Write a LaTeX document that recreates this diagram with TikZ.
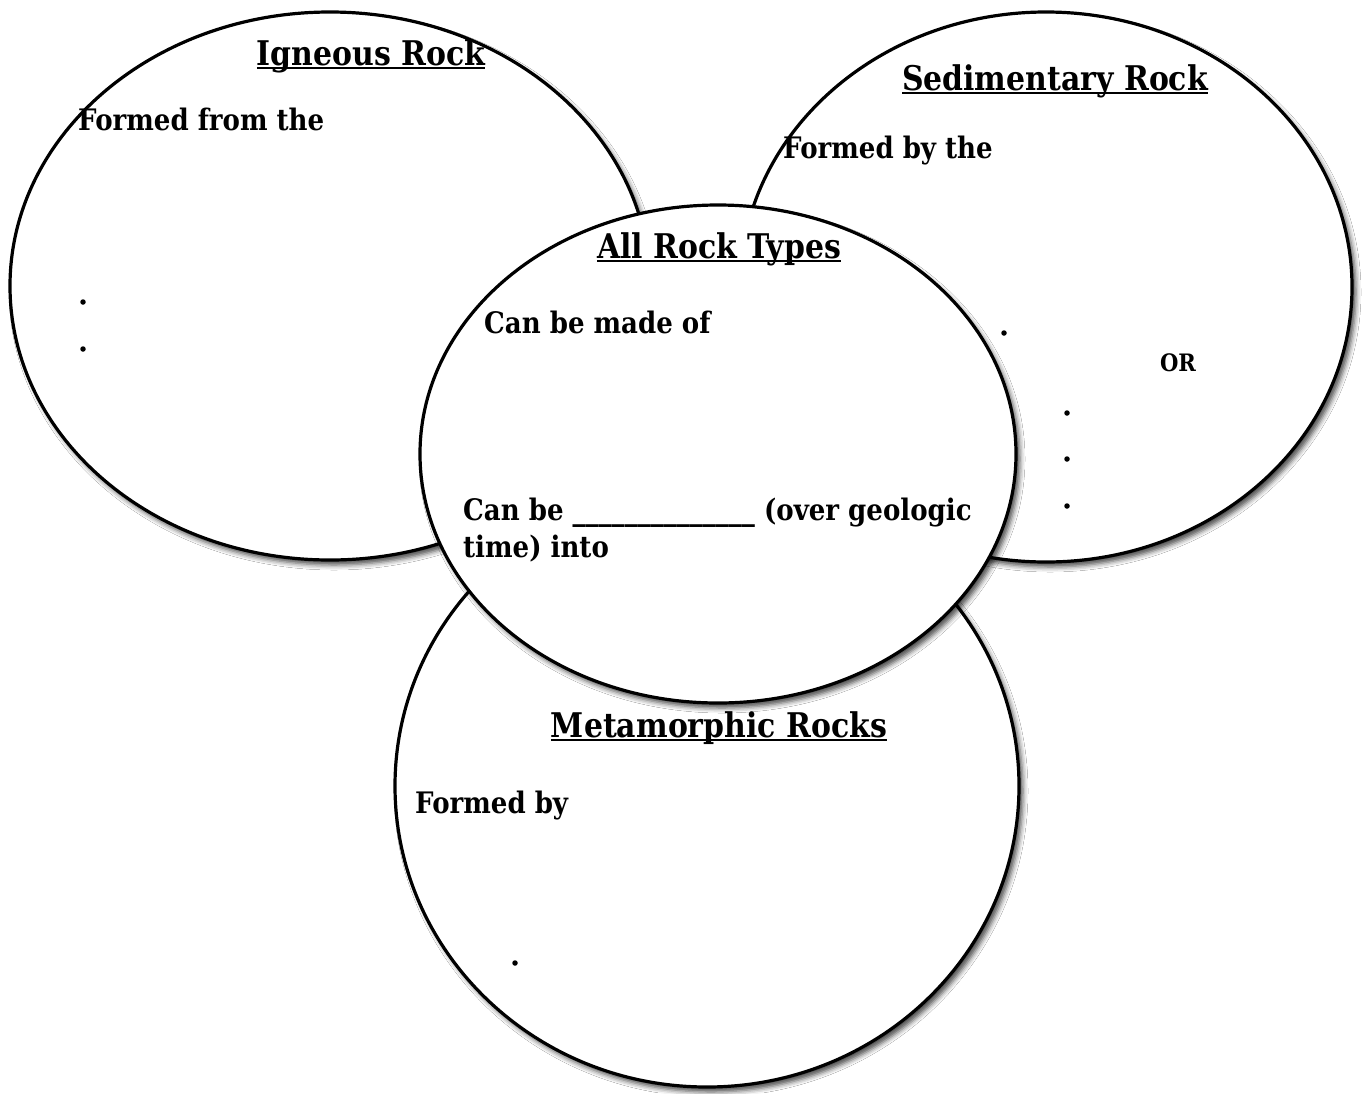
\documentclass[tikz,border=0pt]{standalone}
\usepackage{fontspec}
\setmainfont{DejaVu Serif}[FakeStretch=0.88]
\usetikzlibrary{shapes.geometric,shadows.blur}
\newcommand\ulx[1]{\setbox0\hbox{#1}\rlap{\rule[-4pt]{\wd0}{2pt}}\box0}
\begin{document}
\begin{tikzpicture}[x=1pt,y=-1pt,
  rock/.style={ellipse,draw=black,line width=3.2pt,fill=white,inner sep=0pt,
    blur shadow={shadow xshift=4pt,shadow yshift=-5pt,shadow blur radius=5pt,shadow opacity=70}},
  head/.style={inner sep=0pt,anchor=base,font=\fontsize{34}{40}\selectfont\bfseries},
  body/.style={inner sep=0pt,anchor=base west,font=\fontsize{29.6}{36}\selectfont\bfseries},
  bul/.style={circle,fill=black,inner sep=0pt,minimum size=5.5pt}]
\useasboundingbox[fill=white] (0,0) rectangle (1362,1093);
% ellipses
\node[rock,minimum width=624pt,minimum height=602pt] (met) at (707,786) {};
\node[rock,minimum width=640pt,minimum height=548pt] (ign) at (330,286) {};
\node[rock,minimum width=612pt,minimum height=550pt] (sed) at (1046,287) {};
\node[rock,minimum width=596pt,minimum height=498pt] (all) at (718,454) {};
% Igneous
\node[head] (ignh) at (371,65) {\ulx{Igneous Rock}};
\node[body] (ignt) at (78,130) {Formed from the};
\node[bul] (ib1) at (83,302) {};
\node[bul] (ib2) at (83,349) {};
% Sedimentary
\node[head] (sedh) at (1055,90) {\ulx{Sedimentary Rock}};
\node[body] (sedt) at (783,158) {Formed by the};
\node[bul] (sb1) at (1004,333) {};
\node[body,anchor=base] (sedor) at (1178,371) {\fontsize{24}{28}\selectfont OR};
\node[bul] (sb2) at (1067,413) {};
\node[bul] (sb3) at (1067,459) {};
\node[bul] (sb4) at (1067,506) {};
% All rock types
\node[head] (allh) at (719,258) {\ulx{All Rock Types}};
\node[body] (allt1) at (484,333) {Can be made of};
\node[body] (allt2) at (463,520) {Can be \_\_\_\_\_\_\_\_\_\_\_\_\_\_ (over geologic};
\node[body] (allt3) at (463,557) {time) into};
% Metamorphic
\node[head] (meth) at (719,737) {\ulx{Metamorphic Rocks}};
\node[body] (mett) at (415,813) {Formed by};
\node[bul] (mb1) at (515,963) {};
\end{tikzpicture}
\end{document}
